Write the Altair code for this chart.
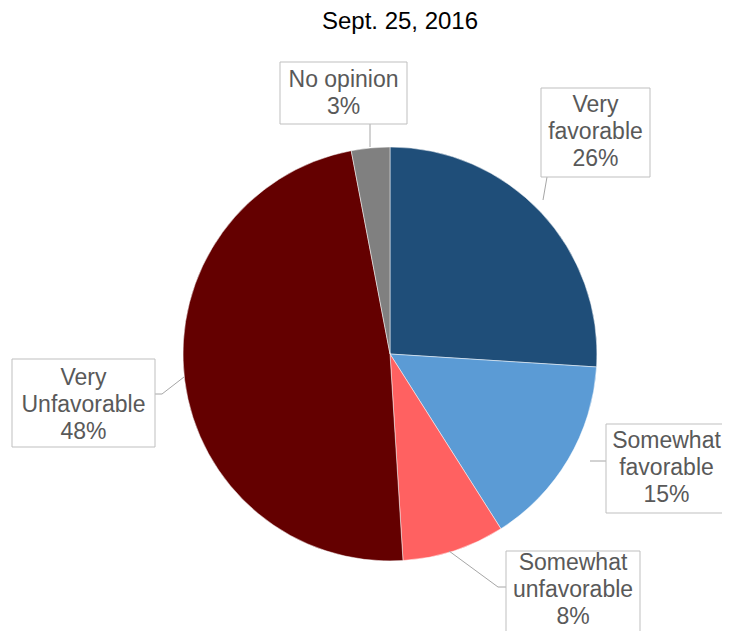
import altair as alt
import pandas as pd

# ---- data ----
categories = ["Very favorable", "Somewhat favorable", "Somewhat unfavorable", "Very Unfavorable", "No opinion"]
label_names = ["Very\nfavorable", "Somewhat\nfavorable", "Somewhat\nunfavorable", "Very\nUnfavorable", "No opinion"]
percent = [26, 15, 8, 48, 3]
colors = ["#1F4E79", "#5B9BD5", "#FF6161", "#640000", "#808080"]
title_text = "Sept. 25, 2016"

# ---- layout (chart pixel coordinates) ----
W, H = 714, 623
OX, OY = 8, 8  # page margin offset
CX, CY, R = 390 - OX, 354 - OY, 207

box_x1 = [541, 606, 506, 12, 280]
box_x2 = [650, 727, 640, 155, 407]
box_y1 = [88, 424, 551, 359, 62]
box_y2 = [177, 513, 647, 447, 124]
text_pad = [17, 17, 12, 19, 18]  # first text line centre below box top

leaders = [
    [(547, 177), (543, 200)],
    [(606, 461), (590, 461)],
    [(506, 587), (498, 587), (449, 551)],
    [(155, 394), (162, 394), (184, 377)],
    [(370, 124), (370, 147)],
]

pie_df = pd.DataFrame({"category": categories, "percent": percent, "order": list(range(len(categories)))})

label_df = pd.DataFrame({
    "category": categories,
    "label": [f"{n}\n{p}%" for n, p in zip(label_names, percent)],
    "x1": [v - OX for v in box_x1],
    "x2": [v - OX for v in box_x2],
    "y1": [v - OY for v in box_y1],
    "y2": [v - OY for v in box_y2],
    "tpad": text_pad,
})
label_df["xc"] = (label_df["x1"] + label_df["x2"]) / 2
label_df["yt"] = label_df["y1"] + label_df["tpad"]

rows = []
for i, pts in enumerate(leaders):
    for j, (px, py) in enumerate(pts):
        rows.append({"seg": i, "k": j, "x": px - OX, "y": py - OY})
lead_df = pd.DataFrame(rows)

xs = alt.Scale(domain=[0, W], range=[0, W])
ys = alt.Scale(domain=[0, H], range=[0, H])

pie = alt.Chart(pie_df).mark_arc(radius=R, stroke="white", strokeWidth=0.5).encode(
    theta=alt.Theta("percent:Q", stack=True),
    order=alt.Order("order:Q"),
    color=alt.Color("category:N", scale=alt.Scale(domain=categories, range=colors), legend=None),
    x=alt.value(CX),
    y=alt.value(CY),
)

lines = alt.Chart(lead_df).mark_line(color="#A6A6A6", strokeWidth=1).encode(
    x=alt.X("x:Q", scale=xs, axis=None),
    y=alt.Y("y:Q", scale=ys, axis=None),
    detail="seg:N",
    order="k:Q",
)

boxes = alt.Chart(label_df).mark_rect(fill="white", stroke="#BFBFBF", strokeWidth=1).encode(
    x=alt.X("x1:Q", scale=xs, axis=None),
    x2="x2:Q",
    y=alt.Y("y1:Q", scale=ys, axis=None),
    y2="y2:Q",
)

texts = alt.Chart(label_df).mark_text(
    font="Liberation Sans", fontSize=23, color="#595959", lineBreak="\n", lineHeight=27,
    align="center", baseline="middle",
).encode(
    x=alt.X("xc:Q", scale=xs, axis=None),
    y=alt.Y("yt:Q", scale=ys, axis=None),
    text="label:N",
)

title = alt.Chart(pd.DataFrame({"t": [title_text]})).mark_text(
    font="Liberation Sans", fontSize=24, color="#000000", align="center", baseline="middle",
).encode(
    x=alt.value(400 - OX),
    y=alt.value(22 - OY),
    text="t:N",
)

chart = alt.layer(pie, lines, boxes, texts, title).properties(
    width=W, height=H, padding=0, autosize=alt.AutoSizeParams(type="none"),
).configure_view(stroke=None)

chart.save("out.html", embed_options={"renderer": "svg", "actions": False})
